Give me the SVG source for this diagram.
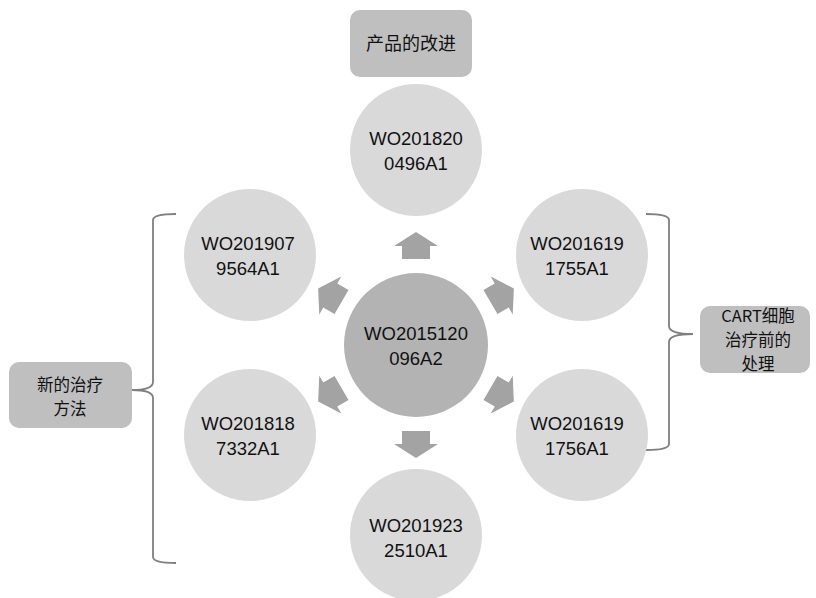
<svg xmlns="http://www.w3.org/2000/svg" width="816" height="598" viewBox="0 0 816 598">
<defs>
<style>
.outer{fill:#d9d9d9;}
.core{fill:#b3b3b3;}
.lbl{fill:#bfbfbf;}
.arr{fill:#a3a3a3;}
.br{fill:none;stroke:#7f7f7f;stroke-width:1.8;}
.t{font-family:"Liberation Sans",Arial,sans-serif;font-size:18.5px;fill:#111;text-anchor:middle;}
.c{font-family:"Noto Sans CJK SC","Liberation Sans",sans-serif;font-size:18px;fill:#111;text-anchor:middle;}
.cs{font-family:"Noto Sans CJK SC","Liberation Sans",sans-serif;font-size:16.5px;fill:#111;text-anchor:middle;}
</style>
<path id="arrow" d="M-14,-86 L-14,-99 L-22,-99 L0,-113 L22,-99 L14,-99 L14,-86 Z"/>
</defs>
<rect width="816" height="598" fill="#ffffff"/>

<g id="connectors">
<g class="arr">
<use href="#arrow" transform="translate(416,345)"/>
<use href="#arrow" transform="translate(416,345) rotate(60)"/>
<use href="#arrow" transform="translate(416,345) rotate(120)"/>
<use href="#arrow" transform="translate(416,345) rotate(180)"/>
<use href="#arrow" transform="translate(416,345) rotate(-120)"/>
<use href="#arrow" transform="translate(416,345) rotate(-60)"/>
</g>
<path class="br" d="M176,214 Q153,214 153,220 L153,382 Q153,390 132,390 Q153,390 153,398 L153,557 Q153,563 176,563"/>
<path class="br" d="M646,214 Q669,214 669,220 L669,326 Q669,334 693,334 Q669,334 669,342 L669,444 Q669,450 646,450"/>
</g>

<g id="node-top">
<circle class="outer" cx="416" cy="150" r="66"/>
<text class="t" x="416" y="145">WO201820</text>
<text class="t" x="416" y="170">0496A1</text>
</g>
<g id="node-tl">
<circle class="outer" cx="250" cy="255" r="66"/>
<text class="t" x="248" y="250">WO201907</text>
<text class="t" x="248" y="275">9564A1</text>
</g>
<g id="node-tr">
<circle class="outer" cx="582" cy="255" r="66"/>
<text class="t" x="577" y="250">WO201619</text>
<text class="t" x="577" y="275">1755A1</text>
</g>
<g id="node-bl">
<circle class="outer" cx="250" cy="435" r="66"/>
<text class="t" x="248" y="430">WO201818</text>
<text class="t" x="248" y="455">7332A1</text>
</g>
<g id="node-br">
<circle class="outer" cx="582" cy="435" r="66"/>
<text class="t" x="577" y="430">WO201619</text>
<text class="t" x="577" y="455">1756A1</text>
</g>
<g id="node-bottom">
<circle class="outer" cx="416" cy="535" r="66"/>
<text class="t" x="416" y="532">WO201923</text>
<text class="t" x="416" y="557">2510A1</text>
</g>
<g id="node-center">
<circle class="core" cx="416" cy="345" r="72"/>
<text class="t" x="416" y="340">WO2015120</text>
<text class="t" x="416" y="365">096A2</text>
</g>

<g id="label-top">
<rect class="lbl" x="350" y="10" width="122" height="67" rx="10"/>
<text class="c" x="411" y="50">产品的改进</text>
</g>
<g id="label-left">
<rect class="lbl" x="9" y="362" width="123" height="66" rx="10"/>
<text class="cs" x="70" y="391">新的治疗</text>
<text class="cs" x="70" y="415">方法</text>
</g>
<g id="label-right">
<rect class="lbl" x="700" y="306" width="110" height="67" rx="10"/>
<text class="cs" x="758" y="322">CART细胞</text>
<text class="cs" x="758" y="346">治疗前的</text>
<text class="cs" x="758" y="370">处理</text>
</g>
</svg>
